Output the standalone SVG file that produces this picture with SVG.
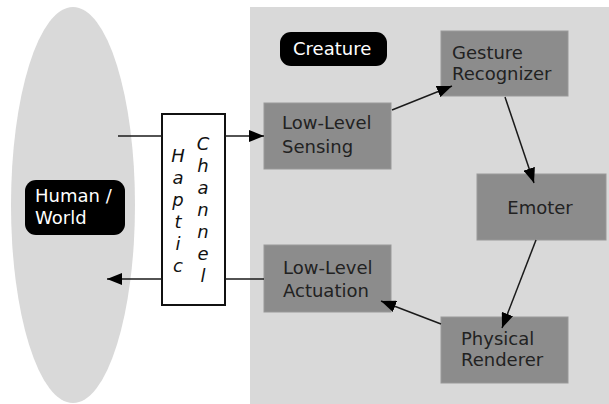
<svg xmlns="http://www.w3.org/2000/svg" width="609" height="404" viewBox="0 0 609 404">
<defs>
<marker id="ah" markerUnits="userSpaceOnUse" markerWidth="16" markerHeight="12" refX="15" refY="6" orient="auto">
<path d="M0,0 L15,6 L0,12 Z" fill="#000"/>
</marker>
<style>
text{font-family:"DejaVu Sans","Liberation Sans",sans-serif;font-size:18px}
.box{fill:#8c8c8c;stroke:#999;stroke-width:1}
.lbl{fill:#222}
.tag{fill:#000}
.wt{fill:#fff}
.ch{font-style:italic;fill:#111;text-anchor:middle}
.con{stroke:#1a1a1a;stroke-width:1.5;fill:none}
</style>
</defs>
<rect width="609" height="404" fill="#fff"/>
<g id="world">
<ellipse cx="73" cy="205" rx="62" ry="198" fill="#d9d9d9"/>
<rect class="tag" x="25" y="180" width="100" height="55" rx="11"/>
<text class="wt" x="35" y="202">Human /</text>
<text class="wt" x="35" y="224">World</text>
</g>
<g id="creature">
<rect x="250" y="7" width="359" height="397" fill="#d9d9d9"/>
<rect class="tag" x="280" y="32" width="107" height="34" rx="11"/>
<text class="wt" x="293" y="55">Creature</text>
</g>
<g id="haptic">
<rect x="162" y="114" width="63" height="191" fill="#fff" stroke="#111" stroke-width="2"/>
<text class="ch"><tspan x="178" y="162">H</tspan><tspan x="178" y="184">a</tspan><tspan x="178" y="206">p</tspan><tspan x="178" y="228">t</tspan><tspan x="178" y="250">i</tspan><tspan x="178" y="272">c</tspan></text>
<text class="ch"><tspan x="203" y="150">C</tspan><tspan x="203" y="172">h</tspan><tspan x="203" y="194">a</tspan><tspan x="203" y="216">n</tspan><tspan x="203" y="238">n</tspan><tspan x="203" y="260">e</tspan><tspan x="203" y="282">l</tspan></text>
</g>
<g id="sensing">
<rect class="box" x="264" y="103" width="127" height="66"/>
<text class="lbl" x="282" y="129">Low-Level</text>
<text class="lbl" x="282" y="153">Sensing</text>
</g>
<g id="gesture">
<rect class="box" x="441" y="31" width="127" height="65"/>
<text class="lbl" x="452" y="59">Gesture</text>
<text class="lbl" x="452" y="80">Recognizer</text>
</g>
<g id="emoter">
<rect class="box" x="477" y="174" width="129" height="66"/>
<text class="lbl" x="540" y="214" text-anchor="middle">Emoter</text>
</g>
<g id="renderer">
<rect class="box" x="441" y="317" width="127" height="66"/>
<text class="lbl" x="461" y="345">Physical</text>
<text class="lbl" x="461" y="366">Renderer</text>
</g>
<g id="actuation">
<rect class="box" x="264" y="245" width="127" height="67"/>
<text class="lbl" x="283" y="274">Low-Level</text>
<text class="lbl" x="283" y="297">Actuation</text>
</g>
<g id="connectors">
<line class="con" x1="118" y1="136" x2="162" y2="136"/>
<line class="con" x1="225" y1="136" x2="264" y2="136" marker-end="url(#ah)"/>
<line class="con" x1="392" y1="110" x2="452" y2="86" marker-end="url(#ah)"/>
<line class="con" x1="505" y1="97" x2="534" y2="183" marker-end="url(#ah)"/>
<line class="con" x1="536" y1="240" x2="502" y2="328" marker-end="url(#ah)"/>
<line class="con" x1="441" y1="324" x2="381" y2="301" marker-end="url(#ah)"/>
<line class="con" x1="264" y1="279" x2="225" y2="279"/>
<line class="con" x1="162" y1="279" x2="107" y2="279" marker-end="url(#ah)"/>
</g>
</svg>
